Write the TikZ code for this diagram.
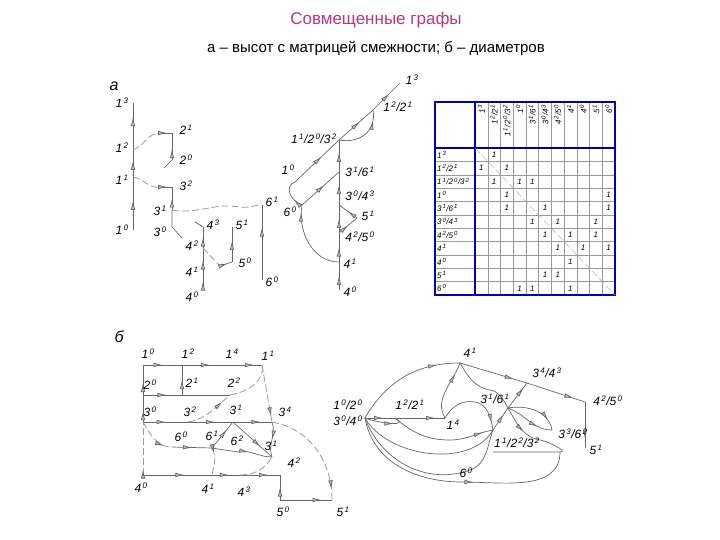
\documentclass[tikz,border=0pt]{standalone}
\usepackage{fontspec}
\setmainfont{Liberation Sans}
\usetikzlibrary{decorations.markings,arrows.meta}
\newcommand\su[1]{\textsuperscript{\,#1}}
\begin{document}
\begin{tikzpicture}[x=1pt,y=-1pt,
 ln/.style={draw=black!60,line width=0.7pt},
 dsh/.style={draw=black!40,line width=0.8pt,dash pattern=on 7pt off 3pt},
 ar/.style={postaction=decorate,decoration={markings,mark=at position #1 with {\arrow{Latex[length=9pt,width=4.5pt,color=black!60,fill=black!25]}}}},
 ar/.default=0.5,
 lab/.style={font=\itshape\fontsize{12}{12}\selectfont,inner sep=0pt},
 mx/.style={font=\itshape\fontsize{8}{8}\selectfont,inner sep=0pt},
 grid/.style={draw=black!40,line width=0.4pt},
 blu/.style={draw=blue!70!black,line width=1.1pt}]
\useasboundingbox (0,0) rectangle (720,540);
\node[font=\fontsize{17}{17}\selectfont,text=magenta!70!black] (t1) at (376,20) {Совмещенные графы};
\node[font=\fontsize{15}{15}\selectfont] (t2) at (376,48) {а – высот с матрицей смежности; б – диаметров};
\node[font=\itshape\fontsize{16}{16}\selectfont] (la) at (114,86) {а};
\node[font=\itshape\fontsize{16}{16}\selectfont] (lb) at (119,337) {б};
% ---------- part a, left
\foreach \n/\x/\y in {a10/133/230,a11/133/177,a12/133/150,a13/133/103,a21/172/133,a20/172/160,a20s/164/168,a32/172/187,a31/172/210,a30/172/227,a30s/182/238,a61/262/205,a60/262/280,a43/203/227,a43s/195/222,a42/203/248,a41/203/273,a40/203/290,a51/232/227,a50/232/262,a50s/220/266}
  \coordinate (\n) at (\x,\y);
\draw[ln,ar=0.55] (a10)--(a11);
\draw[ln,ar=0.6] (a11)--(a12);
\draw[ln,ar=0.7] (a12)--(a13);
\draw[dsh] (a12) to[out=20,in=180] (160,133);
\draw[ln,ar=0.6] (160,133)--(a21);
\draw[ln,ar=0.4] (a20)--(a21);
\draw[ln] (a20)--(a20s);
\draw[dsh] (a11) to[out=-10,in=190] (160,187);
\draw[ln,ar=0.6] (160,187)--(a32);
\draw[ln,ar=0.5] (a31)--(a32);
\draw[ln] (a31)--(a30)--(a30s);
\draw[dsh] (a31) to[out=-10,in=170] (240,207) to[out=-10,in=180] (a61);
\draw[ln,ar=0.7] (a60)--(a61);
\draw[ln,ar=0.5] (a40)--(a41);
\draw[ln,ar=0.5] (a41)--(a42);
\draw[ln,ar=0.5] (a42)--(a43);
\draw[ln] (a43)--(a43s);
\draw[dsh] (a42)--(a50s);
\draw[ln,ar=0.6] (a50s)--(a50);
\draw[ln,ar=0.6] (a50)--(a51);
\foreach \n/\x/\y/\t in {n13/122/103/{1\su3},n12/122/148/{1\su2},n11/122/180/{1\su1},n10/122/230/{1\su0},n21/186/130/{2\su1},n20/186/160/{2\su0},n32/186/186/{3\su2},n31/160/211/{3\su1},n30/160/232/{3\su0},n43/213/225/{4\su3},n42/192/246/{4\su2},n41/192/272/{4\su1},n40/192/297/{4\su0},n51/242/225/{5\su1},n50/245/263/{5\su0},n61/272/202/{6\su1},n60/272/282/{6\su0}}
  \node[lab] (\n) at (\x,\y) {\t};
% ---------- part a, right
\foreach \n/\x/\y in {b40/339/290,b41/339/262,b42/339/233,b30/339/205,b31/339/172,b11/339/140,b51/357/218,b60/302/205,b10/295/182,b12/373/110,b13/400/83}
  \coordinate (\n) at (\x,\y);
\draw[ln,ar=0.5] (b40)--(b41);
\draw[ln,ar=0.5] (b41)--(b42);
\draw[ln,ar=0.5] (b42)--(b30);
\draw[ln,ar=0.6] (b30)--(b31);
\draw[ln,ar=0.6] (b31)--(b11);
\draw[ln,ar=0.6] (b60)--(b31);
\draw[ln,ar=0.6] (b10)--(b11);
\draw[ln,ar=0.6] (b11)--(b12);
\draw[ln,ar=0.6] (b12)--(b13);
\draw[ln,ar=0.5] (b42)--(b51);
\draw[ln,ar=0.5] (b51)--(b30);
\draw[ln,ar=0.8] (b11) to[out=-10,in=-80,looseness=1.2] (b12);
\draw[ln,ar=0.3] (b60) to[out=160,in=200,looseness=1.3] (b10);
\draw[ln,ar=0.9] (b41) to[out=180,in=-100] (b60);
\foreach \n/\x/\y/\t in {m13/412/80/{1\su3},m12/398/107/{1\su2/2\su1},m11/314/139/{1\su1/2\su0/3\su2},m10/288/170/{1\su0},m31/360/172/{3\su1/6\su1},m60/290/212/{6\su0},m30/360/196/{3\su0/4\su3},m51/368/216/{5\su1},m42/360/237/{4\su2/5\su0},m41/350/264/{4\su1},m40/350/292/{4\su0}}
  \node[lab] (\n) at (\x,\y) {\t};
% ---------- matrix
\def\cw{12.727}\def\rh{13.364}
\foreach \i in {1,...,10} {\draw[grid] (475+\i*\cw,102)--(475+\i*\cw,295); \draw[grid] (435,148+\i*\rh)--(615,148+\i*\rh);}
\draw[blu] (435,102) rectangle (615,295);
\draw[blu] (435,148)--(615,148);
\draw[blu] (475,102)--(475,295);
\draw[dsh,draw=black!35,line width=0.4pt] (475,148)--(615,295);
\foreach \t [count=\i] in {{1\su3},{1\su2/2\su1},{1\su1/2\su0/3\su2},{1\su0},{3\su1/6\su1},{3\su0/4\su3},{4\su2/5\su0},{4\su1},{4\su0},{5\su1},{6\su0}}{
  \node[mx,rotate=90,anchor=east] (ch\i) at (475+\i*\cw-\cw/2,104) {\t};
  \node[mx,anchor=west] (rh\i) at (437,148+\i*\rh-\rh/2) {\t};}
\foreach \r/\c in {1/2,2/1,2/3,3/2,3/4,3/5,4/3,4/11,5/3,5/6,5/11,6/5,6/7,6/10,7/6,7/8,7/10,8/7,8/9,8/11,9/8,10/6,10/7,11/4,11/5,11/8}
  \node[mx] (e\r-\c) at (475+\c*\cw-\cw/2,148+\r*\rh-\rh/2) {1};
% ---------- part б, left
\foreach \n/\x/\y in {c10/143/365,c12/182/365,c14/222/365,c11/262/365,c20/143/395,c21/182/395,c22/230/395,c30/143/422,c32/188/422,c31/233/422,c34/272/422,c3b/272/457,c60/172/447,c61/212/448,c62/238/452,c40/143/475,c41/212/475,c43/240/475,c42/280/475,c50/280/500,c51/332/500}
  \coordinate (\n) at (\x,\y);
\draw[ln,ar=0.5] (c10)--(c12);
\draw[ln,ar=0.7] (c12)--(c14);
\draw[ln,ar=0.8] (c14)--(c11);
\draw[ln,ar=0.5] (c21)--(c12);
\draw[ln,ar=0.4] (c20)--(c10);
\draw[ln,ar=0.6] (c20)--(c21);
\draw[ln] (c21)--(c22);
\draw[ln,ar=0.4] (c30)--(c20);
\draw[ln,ar=0.5] (c30)--(c32);
\draw[ln,ar=0.6] (c32)--(c31);
\draw[ln,ar=0.7] (c31)--(c34);
\draw[dsh,ar=0.8] (c32) to[out=10,in=220] (c22);
\draw[dsh] (c22) to[out=10,in=-80] (c11);
\draw[dsh,ar=0.9] (c11)--(c34);
\draw[dsh,ar=0.1] (c40)--(c30);
\draw[dsh,ar=0.8] (c30) to[out=-60,in=180] (c60);
\draw[ln,ar=0.5] (c60)--(c61);
\draw[ln,ar=0.7] (c61)--(c31);
\draw[ln,ar=0.7] (c31)--(c3b);
\draw[ln,ar=0.6] (c61)--(c62) to[out=10,in=180] (c3b);
\draw[ln,ar=0.5] (c34) to[out=-70,in=110] (c3b);
\draw[dsh,ar=0.2] (c61) to[out=-60,in=80] (c41);
\draw[ln,ar=0.6] (c40)--(c41);
\draw[ln,ar=0.6] (c41)--(c43);
\draw[ln,ar=0.7] (c43)--(c42);
\draw[dsh] (c43) to[out=0,in=-120] (c3b);
\draw[ln,ar=0.5] (c50)--(c42);
\draw[ln,ar=0.8] (c50)--(c51);
\draw[dsh,ar=0.9] (c34) to[out=-10,in=90] (c51);
\foreach \n/\x/\y/\t in {o10/148/354/{1\su0},o12/188/354/{1\su2},o14/232/354/{1\su4},o11/268/356/{1\su1},o20/150/385/{2\su0},o21/192/383/{2\su1},o22/234/383/{2\su2},o30/150/412/{3\su0},o32/190/412/{3\su2},o31/236/410/{3\su1},o34/285/412/{3\su4},o3b/271/446/{3\su1},o60/181/437/{6\su0},o61/212/436/{6\su1},o62/237/441/{6\su2},o40/141/488/{4\su0},o41/208/489/{4\su1},o43/244/492/{4\su3},o42/294/463/{4\su2},o50/283/512/{5\su0},o51/343/512/{5\su1}}
  \node[lab] (\n) at (\x,\y) {\t};
% ---------- part б, right
\foreach \n/\x/\y in {d10/365/418,d12/395/418,d14/445/418,d41/460/363,d34/527/383,d42/585/402,d51/585/448,d31/508/408,d11/493/430,d33/552/430,d60/462/482}
  \coordinate (\n) at (\x,\y);
\draw[ln,ar=0.6] (d10)--(d12);
\draw[ln,ar=0.8] (d12)--(d14);
\draw[ln,ar=0.8] (d10) to[out=60,in=180] (d41);
\draw[ln,ar=0.8] (d41)--(d34);
\draw[ln,ar=0.8] (d34)--(d42);
\draw[ln,ar=0.8] (d42)--(d51);
\draw[ln,ar=0.7] (d11)--(d31);
\draw[ln,ar=0.8] (d31)--(d34);
\draw[ln,ar=0.8] (d14) to[out=120,in=-110] (d41);
\draw[ln] (d41) to[out=-60,in=170] (490,390) to[out=-10,in=120] (d31);
\draw[ln,ar=0.9] (d14) to[out=60,in=170] (475,402) to[out=-10,in=100] (d11);
\draw[ln,ar=0.9] (d12) to[out=-40,in=180] (450,440) to[out=0,in=190] (d11);
\draw[ln,ar=0.7] (d10) to[out=-20,in=-30,looseness=1.5] (d12);
\draw[ln,ar=0.7] (d31) to[out=-20,in=180] (d33);
\draw[ln,ar=0.8] (d31) to[out=10,in=100] (d33);
\draw[ln,ar=0.2] (d31) to[out=-60,in=170] (540,440) to[out=-10,in=0] (560,452) to[out=180,in=0] (493,452);
\draw[ln] (d10) to[out=-60,in=-120,looseness=0.9] (d11);
\draw[ln] (d10) to[out=-80,in=180] (d60);
\draw[ln,ar=0.1] (d60) to[out=0,in=-90] (560,452);
\draw[ln] (d10) to[out=-70,in=200] (470,470) to[out=20,in=-110] (d11);
\foreach \n/\x/\y/\t in {q41/470/353/{4\su1},q34/547/373/{3\su4/4\su3},q42/608/401/{4\su2/5\su0},q51/596/450/{5\su1},q10/348/405/{1\su0/2\su0},q30/348/421/{3\su0/4\su0},q12/410/405/{1\su2/2\su1},q14/453/425/{1\su4},q31/495/399/{3\su1/6\su1},q11/517/443/{1\su1/2\su2/3\su2},q33/573/434/{3\su3/6\su2},q60/466/473/{6\su0}}
  \node[lab] (\n) at (\x,\y) {\t};
\end{tikzpicture}
\end{document}
